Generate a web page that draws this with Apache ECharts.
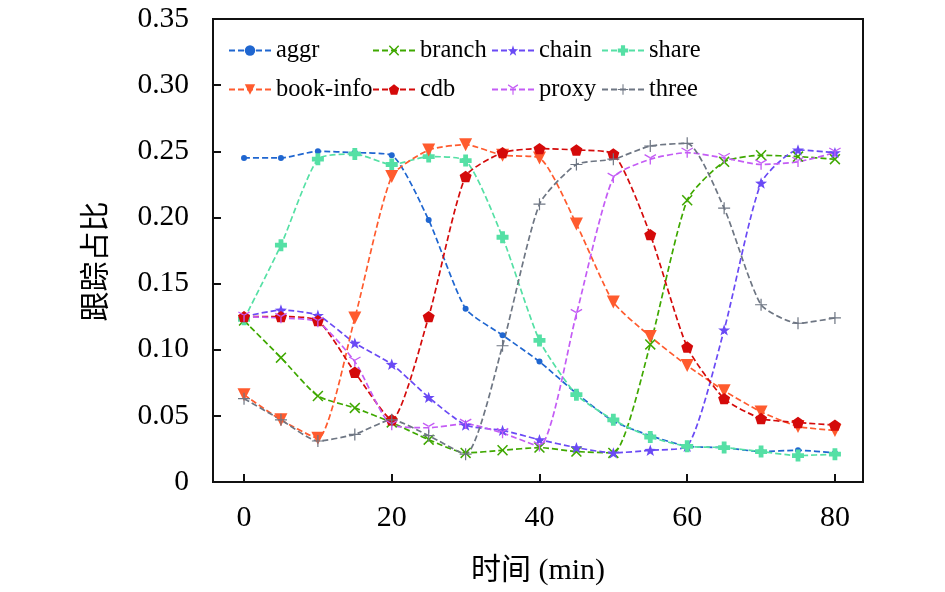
<!DOCTYPE html>
<html>
<head>
    <meta charset="utf-8">
    <title>跟踪占比</title>
    <script src="https://cdn.jsdelivr.net/npm/echarts@6/dist/echarts.min.js"></script>
</head>
<body style="margin:0">
<div id="main" style="width: 945px;height:592px;"></div>
<script type="text/javascript">
    // 时间 (min)
    var times = [0, 5, 10, 15, 20, 25, 30, 35, 40, 45, 50, 55, 60, 65, 70, 75, 80];
    var xTicks = [0, 20, 40, 60, 80];

    var aggr     = [0.245, 0.245, 0.250, 0.249, 0.247, 0.198, 0.131, 0.111, 0.091, 0.067, 0.046, 0.035, 0.027, 0.026, 0.023, 0.024, 0.022];
    var branch   = [0.122, 0.094, 0.065, 0.056, 0.045, 0.032, 0.022, 0.024, 0.026, 0.023, 0.022, 0.104, 0.213, 0.242, 0.247, 0.246, 0.244];
    var chain    = [0.125, 0.130, 0.126, 0.105, 0.089, 0.064, 0.043, 0.039, 0.032, 0.026, 0.022, 0.024, 0.027, 0.115, 0.226, 0.251, 0.249];
    var share    = [0.123, 0.179, 0.244, 0.248, 0.240, 0.246, 0.243, 0.185, 0.107, 0.066, 0.047, 0.034, 0.027, 0.026, 0.023, 0.020, 0.021];
    var bookInfo = [0.066, 0.047, 0.033, 0.124, 0.231, 0.251, 0.255, 0.247, 0.245, 0.195, 0.136, 0.110, 0.088, 0.069, 0.053, 0.042, 0.039];
    var cdb      = [0.125, 0.125, 0.122, 0.083, 0.047, 0.125, 0.231, 0.249, 0.252, 0.251, 0.248, 0.187, 0.102, 0.063, 0.048, 0.045, 0.043];
    var proxy    = [0.125, 0.124, 0.121, 0.091, 0.043, 0.041, 0.044, 0.037, 0.027, 0.127, 0.230, 0.244, 0.249, 0.245, 0.240, 0.242, 0.249];
    var three    = [0.063, 0.047, 0.031, 0.036, 0.047, 0.035, 0.021, 0.103, 0.210, 0.240, 0.244, 0.254, 0.256, 0.207, 0.134, 0.120, 0.124];

    var names = ['aggr', 'branch', 'chain', 'share', 'book-info', 'cdb', 'proxy', 'three'];
    var values = [aggr, branch, chain, share, bookInfo, cdb, proxy, three];
    var colors = ['#1f66d0', '#3fa800', '#6a4af5', '#55e0a5', '#ff5b2e', '#d40a0a', '#c45cf5', '#6e7683'];

    var symX = 'path://M0,1L1,0L5,4L9,0L10,1L6,5L10,9L9,10L5,6L1,10L0,9L4,5Z';
    var symStar = 'path://M10,0L12.35,6.76L19.51,6.91L13.8,11.24L15.88,18.09L10,14L4.12,18.09L6.2,11.24L0.49,6.91L7.65,6.76Z';
    var symFatPlus = 'path://M3,0H7V3H10V7H7V10H3V7H0V3H3Z';
    var symPent = 'path://M10,0L19.51,6.91L15.88,18.09L4.12,18.09L0.49,6.91Z';
    var symTri = 'path://M4.5,5H5.5V10H4.5Z M5.25,4.567L0.92,2.067L0.42,2.933L4.75,5.433Z M4.75,4.567L9.08,2.067L9.58,2.933L5.25,5.433Z';
    var symThinPlus = 'path://M4.5,0H5.5V4.5H10V5.5H5.5V10H4.5V5.5H0V4.5H4.5Z';

    var symbols = ['circle', symX, symStar, symFatPlus, 'triangle', symPent, symTri, symThinPlus];
    var symbolSizes = [6, 11, 12, 12, 13, 12, 12, 12];
    var symbolRotates = [0, 0, 0, 0, 180, 0, 0, 0];

    var serif = "'Liberation Serif', 'Times New Roman', serif";
    var cjk = "'Liberation Serif', 'Noto Sans CJK SC', serif";

    // legend: 2 rows x 4 columns
    var legendLeft = [228, 372, 491, 601];
    var legendTop = [38, 77];

    var series = [];
    var legends = [];
    for (var i = 0; i < names.length; i++) {
        var pts = [];
        for (var j = 0; j < times.length; j++) {
            pts.push([times[j], values[i][j]]);
        }
        series.push({
            name: names[i],
            type: 'line',
            data: pts,
            smooth: 0.2,
            symbol: symbols[i],
            symbolSize: symbolSizes[i],
            symbolRotate: symbolRotates[i],
            symbolKeepAspect: true,
            showAllSymbol: true,
            color: colors[i],
            lineStyle: {color: colors[i], width: 1.7, type: [6, 3]},
            itemStyle: {color: colors[i]},
            animation: false
        });
        legends.push({
            data: [names[i]],
            left: legendLeft[i % 4],
            top: legendTop[Math.floor(i / 4)],
            itemWidth: 42,
            itemHeight: 13,
            padding: 0,
            textStyle: {fontFamily: serif, fontSize: 24.5, color: '#000'}
        });
    }

    var myChart = echarts.init(document.getElementById('main'));
    var option = {
        backgroundColor: '#fff',
        legend: legends,
        grid: {
            left: 213, right: 82, top: 19, bottom: 110,
            show: true, borderColor: '#111', borderWidth: 2
        },
        xAxis: {
            type: 'value',
            min: -4.2,
            max: 83.8,
            name: '时间 (min)',
            nameLocation: 'middle',
            nameGap: 74,
            nameTextStyle: {fontFamily: cjk, fontSize: 30, color: '#000'},
            axisLine: {onZero: false, lineStyle: {color: '#111', width: 2}},
            axisTick: {inside: true, length: 8, customValues: xTicks, lineStyle: {color: '#111', width: 2}},
            axisLabel: {customValues: xTicks, fontFamily: serif, fontSize: 30, color: '#000', margin: 21},
            splitLine: {show: false}
        },
        yAxis: {
            type: 'value',
            min: 0,
            max: 0.35,
            interval: 0.05,
            name: '跟踪占比',
            nameLocation: 'middle',
            nameRotate: 90,
            nameGap: 101,
            nameTextStyle: {fontFamily: cjk, fontSize: 30, color: '#000', padding: [0, 22, 0, 0]},
            axisLine: {show: true, onZero: false, lineStyle: {color: '#111', width: 2}},
            axisTick: {show: true, inside: true, length: 8, lineStyle: {color: '#111', width: 2}},
            axisLabel: {
                fontFamily: serif, fontSize: 29.5, color: '#000', margin: 24,
                formatter: function (v) { return v === 0 ? '0' : v.toFixed(2); }
            },
            splitLine: {show: false}
        },
        series: series
    };
    myChart.setOption(option);
</script>
</body>
</html>
